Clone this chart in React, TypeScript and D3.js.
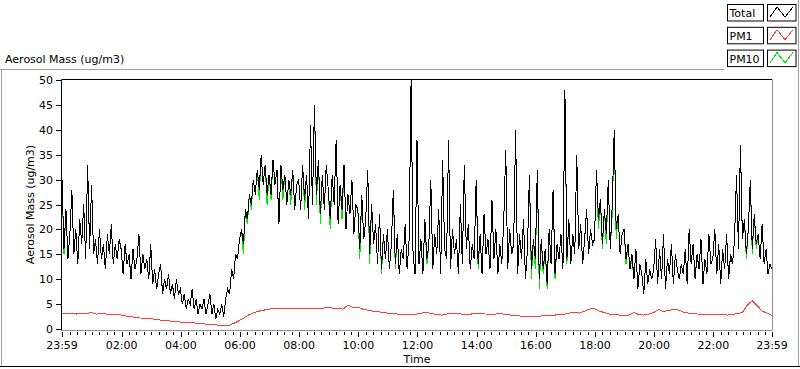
import * as d3 from 'd3'

// Total aerosol mass, one value every 4 min starting 23:59 (one row per hour)
const totalMass = [
    30, 16, 24, 14, 19, 28, 15, 20, 13, 22, 17, 25, 14, 33, 16,
    29, 15, 18, 13, 20, 14, 17, 12, 19, 15, 21, 13, 17, 14, 18,
    16, 11, 17, 13, 15, 10, 16, 12, 14, 19, 11, 15, 12, 14, 10,
    17, 9, 12, 8, 11, 13, 7, 10, 8, 11, 7, 9, 6, 10, 7,
    8, 5, 7, 4, 6, 5, 8, 4, 6, 3, 5, 4, 6, 3, 5,
    7, 3, 5, 2, 4, 3, 5, 2.5, 6, 8, 7, 12, 10, 15, 14,
    18, 20, 17, 24, 22, 27, 25, 30, 27, 32, 28, 35, 29, 33, 27,
    31, 27, 34, 29, 32, 21, 33, 28, 31, 25, 30, 27, 32, 24, 29,
    30, 24, 33, 26, 31, 22, 41, 25, 45, 27, 34, 23, 31, 24, 33,
    28, 22, 31, 25, 38, 21, 29, 24, 33, 20, 27, 23, 30, 19, 25,
    24, 16, 27, 18, 22, 32, 15, 25, 17, 21, 13, 23, 12, 19, 14,
    20, 12, 17, 28, 13, 19, 11, 16, 14, 21, 12, 18, 50, 15, 11,
    38, 13, 18, 11, 22, 14, 17, 30, 12, 19, 15, 24, 11, 34, 16,
    14, 38, 12, 20, 15, 18, 11, 25, 13, 33, 16, 21, 12, 17, 14,
    30, 13, 19, 11, 23, 15, 18, 12, 26, 14, 20, 11, 17, 13, 22,
    36, 12, 20, 15, 17, 40, 11, 19, 14, 22, 10, 16, 31, 12, 18,
    14, 32, 10, 18, 12, 16, 9, 20, 13, 28, 11, 17, 14, 19, 12,
    48, 14, 22, 13, 19, 15, 35, 16, 21, 13, 18, 24, 15, 20, 17,
    18, 32, 22, 26, 17, 24, 19, 30, 16, 25, 40, 20, 23, 15, 19,
    20, 14, 17, 12, 15, 10, 16, 8, 13, 11, 7, 14, 9, 12, 10,
    12, 18, 9, 16, 10, 19, 8, 14, 11, 17, 9, 15, 12, 10, 13,
    11, 16, 9, 20, 13, 17, 10, 15, 12, 18, 9, 14, 11, 19, 13,
    14, 20, 11, 17, 9, 16, 12, 19, 10, 15, 13, 18, 31, 16, 37,
    18, 22, 15, 20, 30, 16, 23, 17, 19, 14, 21, 13, 16, 11, 13,
    12,
]

// PM10, same sampling
const pm10Mass = [
    30, 15, 24, 14, 19, 28, 15, 20, 13, 22, 17, 25, 14, 33, 16,
    29, 15, 18, 13, 20, 14, 17, 12, 19, 15, 21, 13, 17, 14, 18,
    16, 11, 17, 13, 15, 10, 16, 12, 14, 19, 11, 15, 12, 14, 10,
    17, 9, 12, 8, 11, 13, 7, 10, 8, 11, 7, 9, 6, 10, 7,
    8, 5, 7, 4, 6, 5, 8, 4, 6, 3, 5, 4, 6, 3, 5,
    7, 3, 5, 2, 4, 3, 5, 2.5, 6, 8, 7, 12, 10, 15, 14,
    18, 20, 15, 24, 21, 27, 24, 30, 27, 32, 26, 35, 29, 33, 25,
    31, 26, 34, 29, 32, 21, 33, 26, 31, 25, 30, 25, 32, 24, 29,
    30, 24, 33, 24, 31, 22, 41, 25, 45, 25, 34, 21, 31, 24, 33,
    28, 20, 31, 25, 38, 21, 29, 22, 33, 20, 27, 23, 30, 19, 25,
    24, 14, 27, 18, 22, 32, 13, 25, 17, 21, 13, 23, 11, 19, 14,
    20, 12, 17, 28, 12, 19, 11, 16, 14, 21, 12, 18, 50, 15, 11,
    38, 13, 18, 11, 22, 13, 17, 30, 12, 19, 15, 24, 11, 34, 16,
    14, 38, 12, 20, 15, 18, 11, 25, 13, 33, 16, 21, 12, 17, 14,
    30, 12, 19, 11, 23, 15, 18, 12, 26, 14, 20, 11, 17, 13, 22,
    36, 12, 20, 15, 17, 40, 11, 19, 14, 22, 10, 16, 31, 10, 18,
    12, 32, 8, 18, 11, 16, 8, 20, 13, 28, 10, 17, 14, 19, 12,
    48, 13, 22, 13, 19, 15, 35, 16, 21, 13, 18, 24, 15, 20, 17,
    18, 32, 20, 26, 16, 24, 17, 30, 16, 23, 40, 18, 23, 15, 19,
    20, 13, 17, 12, 14, 10, 16, 8, 13, 11, 7, 14, 9, 12, 10,
    12, 18, 9, 16, 10, 19, 8, 14, 11, 17, 9, 15, 12, 10, 13,
    11, 16, 9, 20, 13, 17, 10, 15, 12, 18, 9, 14, 11, 19, 13,
    14, 20, 11, 17, 9, 16, 12, 19, 10, 15, 13, 18, 31, 16, 37,
    18, 22, 14, 20, 30, 15, 23, 16, 19, 14, 21, 13, 16, 11, 13,
    12,
]

// PM1, one value every 10 min (one row per 2 hours)
const pm1Mass = [
    3.2, 3.1, 3.2, 3.0, 3.2, 3.1, 3.3, 3.0, 3.1, 3.0, 2.9, 3.0,
    2.8, 2.6, 2.5, 2.3, 2.2, 2.0, 2.1, 1.9, 1.8, 1.7, 1.6, 1.5,
    1.4, 1.3, 1.3, 1.2, 1.1, 1.0, 1.0, 0.9, 0.7, 0.6, 0.8, 1.2,
    1.7, 2.3, 2.9, 3.3, 3.6, 3.8, 4.0, 4.1, 4.1, 4.2, 4.1, 4.2,
    4.2, 4.1, 4.2, 4.2, 4.1, 4.2, 4.3, 4.2, 4.1, 4.0, 4.8, 4.3,
    4.4, 4.0, 3.8, 3.6, 3.5, 3.3, 3.2, 3.1, 3.0, 2.9, 2.9, 2.8,
    3.0, 3.2, 3.3, 3.1, 2.9, 2.8, 3.0, 3.1, 3.2, 3.0, 2.9, 3.0,
    3.2, 3.1, 3.0, 2.9, 3.0, 3.1, 2.9, 2.8, 2.7, 2.6, 2.5, 2.6,
    2.5, 2.6, 2.7, 2.6, 2.8, 2.9, 3.0, 3.2, 3.3, 3.2, 3.6, 4.0,
    4.1, 3.6, 3.3, 3.0, 2.9, 2.8, 2.7, 2.8, 3.3, 2.9, 2.8, 3.0,
    3.3, 3.9, 3.5, 3.7, 3.9, 3.8, 3.4, 3.2, 3.1, 3.0, 2.9, 3.0,
    2.8, 2.9, 3.0, 2.8, 2.9, 3.1, 3.3, 4.8, 5.7, 4.7, 3.6, 3.2,
    2.7,
]

const timeLabels = ['23:59', '02:00', '04:00', '06:00', '08:00', '10:00', '12:00', '14:00', '16:00', '18:00', '20:00', '22:00', '23:59']
// minutes after 23:59
const timeMinutes = [0, 121, 241, 361, 481, 601, 721, 841, 961, 1081, 1201, 1321, 1440]
const massTicks = [0, 5, 10, 15, 20, 25, 30, 35, 40, 45, 50]

const seriesNames = ['Total', 'PM1', 'PM10']
const seriesColors = ['#000000', '#ff3c3c', '#00e600']

const FONT = 'Tahoma, "DejaVu Sans", sans-serif'

function App() {
    const left = 62
    const right = 772
    const top = 80
    const bottom = 329

    const x = d3.scaleLinear().domain([0, 1440]).range([left, right])
    const y = d3.scaleLinear().domain([0, 50]).range([bottom, top])

    const lineAt = (step: number) =>
        d3
            .line<number>()
            .x((d, i) => x(i * step))
            .y((d) => y(d))

    const minorTicks = d3.range(16, 1440, 15).filter((m) => (m - 1) % 120 !== 0)

    // little zigzag inside the legend swatch
    const swatch = d3
        .line<number[]>()
        .x((d) => d[0])
        .y((d) => d[1])

    return (
        <div style={{ position: 'absolute', left: 0, top: 0 }}>
            <svg width={800} height={369} style={{ display: 'block', background: '#fff' }} fontFamily={FONT}>
                {/* outer frame */}
                <line x1={0} x2={724} y1={69.5} y2={69.5} stroke="#a0a0a0" />
                <line x1={1.5} x2={1.5} y1={69.5} y2={366} stroke="#a0a0a0" />
                <line x1={0} x2={800} y1={366.5} y2={366.5} stroke="#000" />
                <line x1={798.5} x2={798.5} y1={0} y2={366} stroke="#a0a0a0" />

                <text x={5} y={63} fontSize={11} fill="#000">
                    Aerosol Mass (ug/m3)
                </text>

                {/* legend */}
                {seriesNames.map((name, i) => {
                    const ty = 4.5 + i * 22.8
                    return (
                        <g key={name}>
                            <rect x={727.5} y={ty} width={36} height={16.5} fill="#fff" stroke="#000" />
                            <text x={729.5} y={ty + 12.5} fontSize={11} fill="#000">
                                {name}
                            </text>
                            <rect x={767.5} y={ty} width={28.5} height={16.5} fill="#fff" stroke="#000" />
                            <path
                                d={swatch([
                                    [770, ty + 12.5],
                                    [777, ty + 2.5],
                                    [785, ty + 12.5],
                                    [793, ty + 2.5],
                                ]) as string}
                                fill="none"
                                stroke={seriesColors[i]}
                                shapeRendering="crispEdges"
                            />
                        </g>
                    )
                })}

                {/* plot frame */}
                <line x1={left - 0.5} x2={right} y1={top - 0.5} y2={top - 0.5} stroke="#000" />
                <line x1={left - 0.5} x2={left - 0.5} y1={top - 0.5} y2={bottom + 1.5} stroke="#000" />
                <line x1={left} x2={right + 0.5} y1={bottom + 1.5} y2={bottom + 1.5} stroke="#909090" />
                <line x1={right + 0.5} x2={right + 0.5} y1={top - 0.5} y2={bottom + 1.5} stroke="#909090" />

                {/* y axis */}
                {massTicks.map((t) => (
                    <g key={t}>
                        <line x1={56} x2={left - 0.5} y1={Math.round(y(t)) + 0.5} y2={Math.round(y(t)) + 0.5} stroke="#000" />
                        <text x={53} y={y(t) + 4} fontSize={11} textAnchor="end" fill="#000">
                            {t}
                        </text>
                    </g>
                ))}
                <text
                    transform={`translate(34, ${(top + bottom) / 2}) rotate(-90)`}
                    fontSize={11}
                    textAnchor="middle"
                    fill="#000"
                >
                    Aerosol Mass (ug/m3)
                </text>

                {/* x axis */}
                {minorTicks.map((m) => (
                    <line key={m} x1={Math.round(x(m)) + 0.5} x2={Math.round(x(m)) + 0.5} y1={332} y2={335} stroke="#000" />
                ))}
                {timeMinutes.map((m, i) => (
                    <g key={i}>
                        <line x1={Math.round(x(m)) + 0.5} x2={Math.round(x(m)) + 0.5} y1={332} y2={337} stroke="#000" />
                        <text x={x(m)} y={349} fontSize={11} textAnchor="middle" fill="#000">
                            {timeLabels[i]}
                        </text>
                    </g>
                ))}
                <text x={(left + right) / 2} y={363} fontSize={11} textAnchor="middle" fill="#000">
                    Time
                </text>

                {/* data */}
                <path d={lineAt(4)(pm10Mass) as string} fill="none" stroke={seriesColors[2]} strokeWidth={1} shapeRendering="crispEdges" />
                <path d={lineAt(10)(pm1Mass) as string} fill="none" stroke={seriesColors[1]} strokeWidth={1} shapeRendering="crispEdges" />
                <path d={lineAt(4)(totalMass) as string} fill="none" stroke={seriesColors[0]} strokeWidth={1} shapeRendering="crispEdges" />
            </svg>
        </div>
    )
}

export default App
